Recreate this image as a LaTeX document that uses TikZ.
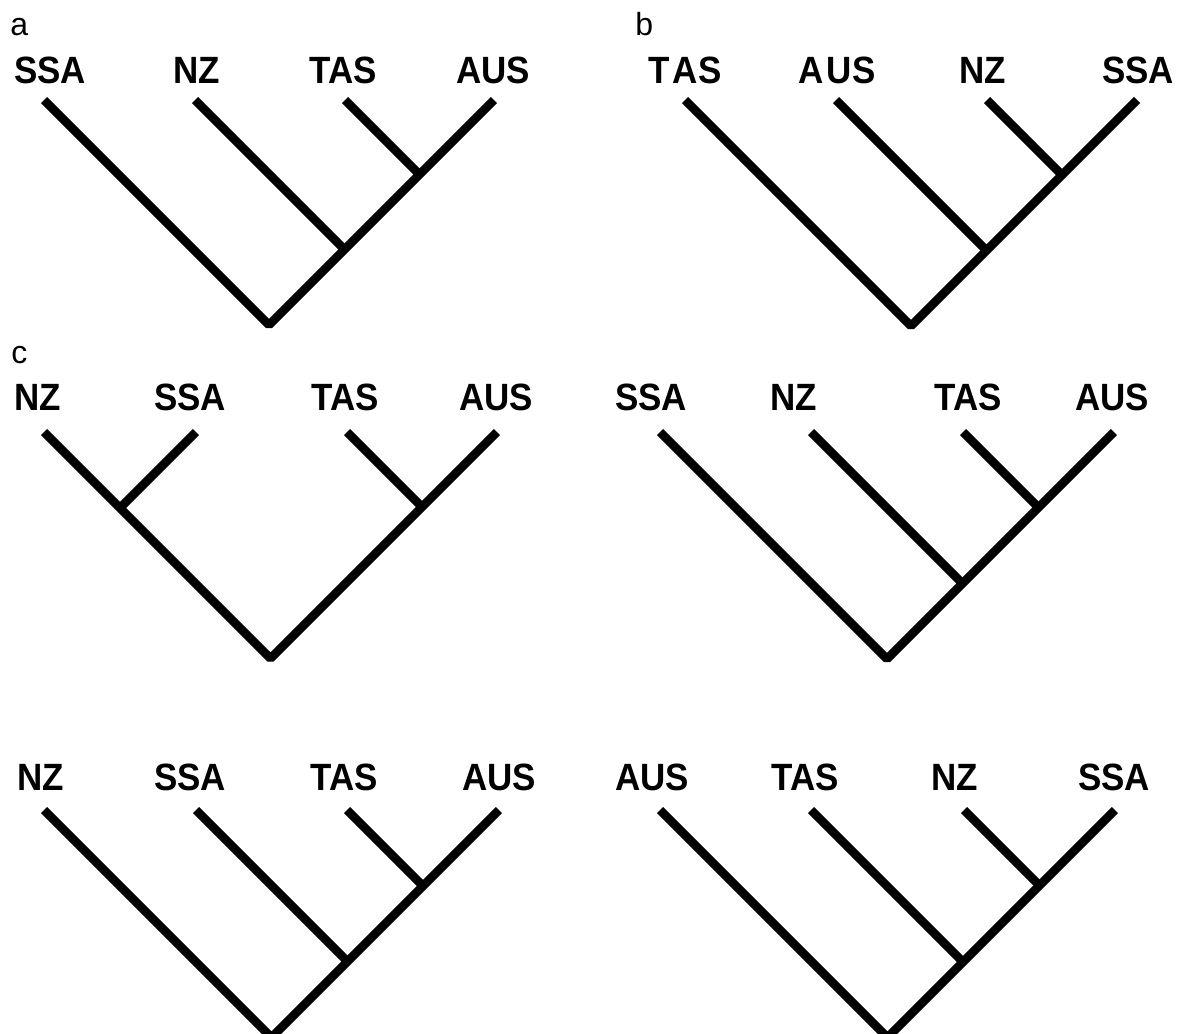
\documentclass[tikz,border=0pt]{standalone}
\usepackage{fontspec}
\setmainfont{Liberation Sans}
\newfontfamily\taxonfont[FakeStretch=0.92]{Liberation Sans}
\usetikzlibrary{positioning}

\begin{document}
\begin{tikzpicture}[
  x=0.5pt, y=-0.5pt,
  branch/.style = {line width=4.3pt, line join=bevel},
  taxon/.style = {font=\taxonfont\bfseries\fontsize{19}{19}\selectfont, inner sep=0pt, anchor=base},
  panel/.style = {font=\fontsize{16}{16}\selectfont, inner sep=0pt, anchor=base west}
  ]
	\useasboundingbox (0,0) rectangle (1180,1034);

	% a
	\node[panel] (la) at (10,35) {a};
	\coordinate (a1) at (44,100);
	\coordinate (a2) at (195,100);
	\coordinate (a3) at (345,100);
	\coordinate (a4) at (494,100);
	\coordinate (a34) at (419.5,174.5);
	\coordinate (a234) at (344.5,249.5);
	\coordinate (ar) at (269,325);

	\node[taxon] (a-ssa) at (50,83) {SSA};
	\node[taxon] (a-nz) at (197,83) {NZ};
	\node[taxon] (a-tas) at (343,83) {TAS};
	\node[taxon] (a-aus) at (493,83) {AUS};

	\draw[branch] (a1) -- (ar) -- (a4);
	\draw[branch] (a2) -- (a234);
	\draw[branch] (a3) -- (a34);

	% b
	\node[panel] (lb) at (635,35) {b};
	\coordinate (b1) at (685,100);
	\coordinate (b2) at (836,100);
	\coordinate (b3) at (987,100);
	\coordinate (b4) at (1137,100);
	\coordinate (b34) at (1062,175);
	\coordinate (b234) at (986.5,250.5);
	\coordinate (br) at (911,326);

	\node[taxon] (b-tas) at (685,83) {T\kern1.5pt AS};
	\node[taxon] (b-aus) at (837,83) {A\kern1.5pt US};
	\node[taxon] (b-nz) at (983,83) {NZ};
	\node[taxon] (b-ssa) at (1138,83) {SSA};

	\draw[branch] (b1) -- (br) -- (b4);
	\draw[branch] (b2) -- (b234);
	\draw[branch] (b3) -- (b34);

	% c, left
	\node[panel] (lc) at (11,363) {c};
	\coordinate (c1) at (44,432);
	\coordinate (c2) at (196,432);
	\coordinate (c3) at (347,432);
	\coordinate (c4) at (497,432);
	\coordinate (c12) at (120,508);
	\coordinate (c34) at (422,507);
	\coordinate (cr) at (270.5,658.5);

	\node[taxon] (c-nz) at (38,410) {NZ};
	\node[taxon] (c-ssa) at (190,410) {SSA};
	\node[taxon] (c-tas) at (345,410) {TAS};
	\node[taxon] (c-aus) at (496,410) {AUS};

	\draw[branch] (c1) -- (cr) -- (c4);
	\draw[branch] (c2) -- (c12);
	\draw[branch] (c3) -- (c34);

	% c, right
	\coordinate (d1) at (660,432);
	\coordinate (d2) at (811,432);
	\coordinate (d3) at (963,432);
	\coordinate (d4) at (1114,432);
	\coordinate (d34) at (1038.5,507.5);
	\coordinate (d234) at (962.5,583.5);
	\coordinate (dr) at (887,659);

	\node[taxon] (d-ssa) at (651,410) {SSA};
	\node[taxon] (d-nz) at (794,410) {NZ};
	\node[taxon] (d-tas) at (968,410) {TAS};
	\node[taxon] (d-aus) at (1112,410) {AUS};

	\draw[branch] (d1) -- (dr) -- (d4);
	\draw[branch] (d2) -- (d234);
	\draw[branch] (d3) -- (d34);

	% bottom, left
	\coordinate (e1) at (44,810);
	\coordinate (e2) at (196,810);
	\coordinate (e3) at (347,810);
	\coordinate (e4) at (499,810);
	\coordinate (e34) at (423,886);
	\coordinate (e234) at (347.5,961.5);
	\coordinate (er) at (271.5,1037.5);

	\node[taxon] (e-nz) at (41,790) {NZ};
	\node[taxon] (e-ssa) at (190,790) {SSA};
	\node[taxon] (e-tas) at (344,790) {TAS};
	\node[taxon] (e-aus) at (499,790) {AUS};

	\draw[branch] (e1) -- (er) -- (e4);
	\draw[branch] (e2) -- (e234);
	\draw[branch] (e3) -- (e34);

	% bottom, right
	\coordinate (f1) at (660,810);
	\coordinate (f2) at (811,810);
	\coordinate (f3) at (964,810);
	\coordinate (f4) at (1115,810);
	\coordinate (f34) at (1039.5,885.5);
	\coordinate (f234) at (963,962);
	\coordinate (fr) at (887.5,1037.5);

	\node[taxon] (f-aus) at (652,790) {AUS};
	\node[taxon] (f-tas) at (805,790) {TAS};
	\node[taxon] (f-nz) at (955,790) {NZ};
	\node[taxon] (f-ssa) at (1114,790) {SSA};

	\draw[branch] (f1) -- (fr) -- (f4);
	\draw[branch] (f2) -- (f234);
	\draw[branch] (f3) -- (f34);

\end{tikzpicture}
\end{document}
